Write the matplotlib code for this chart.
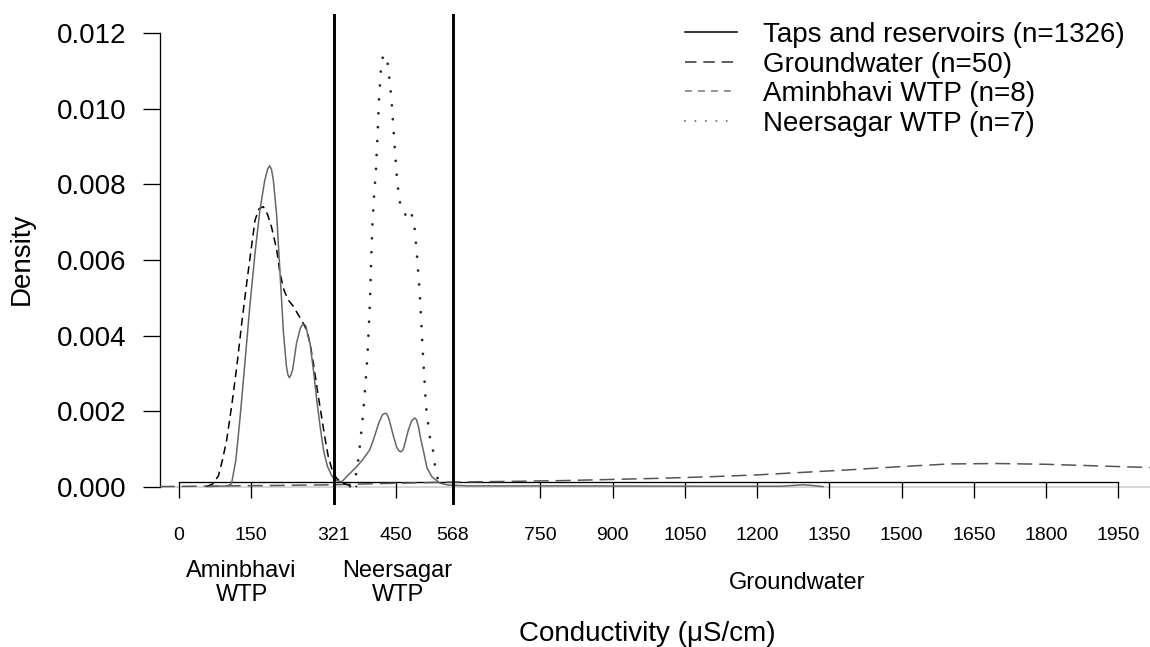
# conductivity density curves by source
import matplotlib
matplotlib.use('Agg')
from matplotlib import pyplot as plt
from matplotlib import transforms
from matplotlib.lines import Line2D

plt.rcParams['font.family'] = ['Liberation Sans', 'DejaVu Sans']

# curves (conductivity, density)
taps_x = [60, 100, 109, 118, 127, 137, 147, 158, 168, 178, 184, 188, 192, 196, 203, 210, 217,
          223, 226, 229, 232, 236, 244, 252, 256, 259.5, 263, 266, 272, 279, 286, 293, 300, 308,
          317, 327, 338, 350, 362, 369, 380, 396, 405, 415, 422, 426, 429, 432, 436, 444, 452,
          457, 461, 465, 468, 476, 483, 487, 490, 493, 497, 503, 507, 515, 525, 542, 560, 600,
          800, 1100, 1250, 1275, 1295, 1315, 1337]
taps_y = [0.00001, 0.00003, 0.00008, 0.0007, 0.00186, 0.0033, 0.00477, 0.0062, 0.00732, 0.0081,
          0.0084, 0.00849, 0.0084, 0.0081, 0.00715, 0.0056, 0.00406, 0.0032, 0.00297, 0.00289,
          0.00295, 0.0031, 0.0038, 0.0042, 0.00428, 0.0043, 0.00427, 0.0041, 0.0038, 0.0031,
          0.0023, 0.0016, 0.00098, 0.00055, 0.0003, 0.00017, 0.00014, 0.0003, 0.00045, 0.00054,
          0.0007, 0.00098, 0.0013, 0.0017, 0.0019, 0.00194, 0.00195, 0.00192, 0.0018, 0.0014,
          0.00105, 0.00095, 0.00093, 0.00098, 0.0011, 0.0015, 0.00175, 0.0018, 0.00182, 0.00178,
          0.0016, 0.0012, 0.00098, 0.0005, 0.00027, 0.0001, 0.00005, 0.00003, 0.00003, 0.00002,
          0.00002, 0.00004, 0.00006, 0.00004, 0.00001]

gw_x = [-40, 100, 200, 321, 450, 568, 700, 800, 900, 1000, 1100, 1200, 1300, 1400, 1500, 1600,
        1700, 1800, 1900, 1950, 2050]
gw_y = [0.00001, 0.00003, 0.00004, 0.00006, 0.0001, 0.00013, 0.00015, 0.00017, 0.0002, 0.00023,
        0.00027, 0.00032, 0.00039, 0.00046, 0.00054, 0.00061, 0.00062, 0.0006, 0.00056, 0.00054,
        0.0005]

amin_x = [57, 70, 82, 90, 99, 110, 120, 130, 140.5, 150, 158, 166, 175, 184, 192, 203, 209.7,
          218, 227, 236, 244, 255, 265, 272, 279, 288, 296, 303, 310, 318, 327, 340, 355, 370]
amin_y = [0.00001, 0.00008, 0.0003, 0.0007, 0.00124, 0.0022, 0.00318, 0.0043, 0.00538, 0.0063,
          0.00706, 0.00735, 0.00741, 0.0072, 0.00688, 0.00626, 0.00565, 0.0052, 0.00494, 0.0048,
          0.00463, 0.0044, 0.00415, 0.0038, 0.00327, 0.0025, 0.00186, 0.0013, 0.0008, 0.00045,
          0.00023, 0.0001, 0.00004, 0.00001]

neer_x = [355, 362, 369, 374, 378, 382, 387, 391, 396.5, 401, 405, 409, 412.5, 415, 419, 423,
          427, 431, 435, 441, 445, 449, 453, 457, 462, 470, 478, 483, 488, 493, 500, 506, 513,
          521, 527, 532, 537, 545]
neer_y = [0.00002, 0.0001, 0.0004, 0.0009, 0.0014, 0.0019, 0.0027, 0.0034, 0.0049, 0.0068,
          0.0077, 0.0084, 0.0094, 0.0102, 0.011, 0.01135, 0.0114, 0.01142, 0.011, 0.01027,
          0.00952, 0.00877, 0.0081, 0.00764, 0.0073, 0.0072, 0.00735, 0.0072, 0.007, 0.0063,
          0.0051, 0.0036, 0.0021, 0.0013, 0.001, 0.0005, 0.00023, 0.00003]

x_ticks = [0, 150, 321, 450, 568, 750, 900, 1050, 1200, 1350, 1500, 1650, 1800, 1950]
y_ticks = [0.000, 0.002, 0.004, 0.006, 0.008, 0.010, 0.012]
cutoffs = [321, 568]
zone_names = ['Aminbhavi\nWTP', 'Neersagar\nWTP', 'Groundwater']
zone_x = [130, 454, 1284]
legend_labels = ['Taps and reservoirs (n=1326)', 'Groundwater (n=50)',
                 'Aminbhavi WTP (n=8)', 'Neersagar WTP (n=7)']

W, H = 1150, 647
fig = plt.figure(figsize=(W / 100, H / 100), dpi=100)
ax = fig.add_axes([160 / W, (H - 505) / H, 990 / W, 491 / H])
ax.set_xlim(-39.4, 2015.8)
ax.set_ylim(-0.000476, 0.012502)

ax.axhline(0, color='#d3d3d3', lw=1.3, zorder=1)
ax.plot(gw_x, gw_y, color='#555555', lw=1.1, dashes=(9.8, 4.6), zorder=3)
ax.plot(amin_x, amin_y, color='black', lw=1.1, dashes=(5.2, 3.3), zorder=3)
ax.plot(neer_x, neer_y, color='#262626', lw=2.0, dashes=(0.01, 5.0),
        dash_capstyle='round', zorder=3)
ax.plot(taps_x, taps_y, color='#666666', lw=1.1, zorder=3)
for c in cutoffs:
    ax.axvline(c, color='black', lw=2.1, zorder=4)

# R style axes
for s in ['top', 'right']:
    ax.spines[s].set_visible(False)
ax.spines['left'].set_bounds(0, 0.012)
ax.spines['bottom'].set_position(('data', 0.00014))
ax.spines['bottom'].set_bounds(0, 1950)
ax.spines['left'].set_linewidth(0.95)
ax.spines['bottom'].set_linewidth(0.95)

ax.set_yticks(y_ticks)
ax.set_yticklabels(['%.3f' % v for v in y_ticks])
ax.set_xticks(x_ticks)
ax.set_xticklabels([str(v) for v in x_ticks])
ax.tick_params(axis='y', length=12.2, width=0.95, pad=12, labelsize=20)
ax.tick_params(axis='x', length=11.5, width=0.95, pad=21, labelsize=14)

fig.text(22 / W, 1 - 259 / H, 'Density', rotation=90, ha='center', va='center', fontsize=20)
fig.text(647 / W, 1 - 641 / H, 'Conductivity (\u03bcS/cm)', ha='center', va='baseline',
         fontsize=20)

lab_tr = transforms.blended_transform_factory(ax.transData, fig.transFigure)
for name, xv in zip(zone_names, zone_x):
    ax.text(xv, 1 - 583 / H, name, transform=lab_tr, ha='center', va='center',
            fontsize=17, linespacing=1.15)

handles = [Line2D([], [], color='#111111', lw=1.2),
           Line2D([], [], color='#333333', lw=1.1, dashes=(7.5, 4.5)),
           Line2D([], [], color='#777777', lw=1.1, dashes=(4.5, 4)),
           Line2D([], [], color='#777777', lw=1.5, dashes=(0.01, 5), dash_capstyle='round')]
ax.legend(handles, legend_labels, loc='upper left', bbox_to_anchor=(671 / W, 1 - 8 / H),
          bbox_transform=fig.transFigure, frameon=False, fontsize=20, borderpad=0,
          handlelength=1.87, handletextpad=0.94, labelspacing=0.13)

plt.savefig('out.png', dpi=100)
